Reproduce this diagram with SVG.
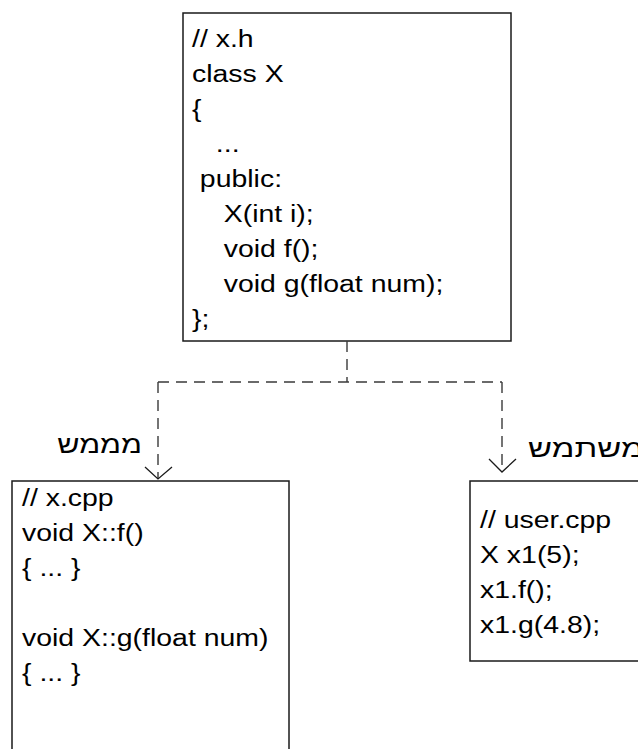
<svg xmlns="http://www.w3.org/2000/svg" width="638" height="749" viewBox="0 0 638 749">
  <style>
    .box { fill: #ffffff; stroke: #1a1a1a; stroke-width: 1.5; }
    .code { font-family: "Liberation Sans", Arial, sans-serif; font-size: 23.5px; fill: #000000; }
    .heb { font-family: "Liberation Sans", "DejaVu Sans", Arial, sans-serif; font-size: 25px; fill: #000000; }
    .dash { fill: none; stroke: #3a3a3a; stroke-width: 1.4; stroke-dasharray: 11 7; }
    .head { fill: none; stroke: #1a1a1a; stroke-width: 1.3; }
  </style>
  <rect width="638" height="749" fill="#ffffff"/>

  <!-- header file: class declaration -->
  <g id="node-header">
    <rect class="box" x="183" y="13" width="328" height="328"/>
    <g class="code" transform="translate(192 0) scale(1.21 1)">
      <text x="0" y="47">// x.h</text>
      <text x="0" y="82">class X</text>
      <text x="0" y="117">{</text>
      <text x="19.7" y="152">...</text>
      <text x="6.5" y="187">public:</text>
      <text x="26.2" y="222">X(int i);</text>
      <text x="26.2" y="257">void f();</text>
      <text x="26.2" y="292">void g(float num);</text>
      <text x="0" y="327">};</text>
    </g>
  </g>

  <!-- implementation file -->
  <g id="node-impl">
    <rect class="box" x="12" y="481" width="277" height="290"/>
    <g class="code" transform="translate(22 0) scale(1.21 1)">
      <text x="0" y="506">// x.cpp</text>
      <text x="0" y="541">void X::f()</text>
      <text x="0" y="576">{ ... }</text>
      <text x="0" y="646">void X::g(float num)</text>
      <text x="0" y="681">{ ... }</text>
    </g>
  </g>

  <!-- client file -->
  <g id="node-user">
    <rect class="box" x="470" y="481" width="200" height="180"/>
    <g class="code" transform="translate(480 0) scale(1.21 1)">
      <text x="0" y="528">// user.cpp</text>
      <text x="0" y="563">X x1(5);</text>
      <text x="0" y="598">x1.f();</text>
      <text x="0" y="633">x1.g(4.8);</text>
    </g>
  </g>

  <!-- role labels -->
  <g id="label-impl">
    <text class="heb" text-anchor="end" transform="translate(142 453) scale(1.22 1)">מממש</text>
  </g>
  <g id="label-user">
    <text class="heb" transform="translate(528 457) scale(1.32 1)">משתמש</text>
  </g>

  <!-- dependency connectors -->
  <g id="connectors">
    <path class="dash" d="M347 341 V382"/>
    <path class="dash" d="M158 382 H502"/>
    <path class="dash" d="M158 382 V479"/>
    <path class="dash" d="M502 382 V472"/>
    <path class="head" d="M145 467 L158 479 L172 467"/>
    <path class="head" d="M489 459 L502 472 L516 459"/>
  </g>
</svg>
